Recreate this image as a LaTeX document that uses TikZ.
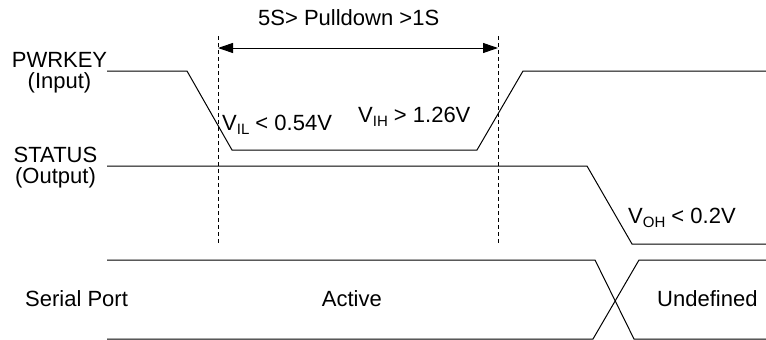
\documentclass[tikz,border=0pt]{standalone}
\usepackage{fontspec}
\setmainfont{Liberation Sans}
\usetikzlibrary{arrows.meta}
\newcommand{\lowsub}[1]{\raisebox{-4pt}{\fontsize{15}{15}\selectfont #1}}
\begin{document}
\begin{tikzpicture}[x=1pt,y=-1pt,
  wave/.style={line width=1pt,black,line join=miter},
  guide/.style={line width=0.8pt,dash pattern=on 4pt off 3pt},
  span/.style={line width=1pt,{Triangle[length=15pt,width=10pt]}-{Triangle[length=15pt,width=10pt]}},
  lbl/.style={inner sep=0pt,font=\fontsize{22}{21}\selectfont,anchor=base,align=center},
  txt/.style={lbl,anchor=base west}]
\useasboundingbox (0,0) rectangle (766,340);
% PWRKEY waveform
\coordinate (p0) at (107,71);
\coordinate (p1) at (187,71);
\coordinate (p2) at (232,150);
\coordinate (p3) at (477,150);
\coordinate (p4) at (523,71);
\coordinate (p5) at (766,71);
\draw[wave] (p0) -- (p1) -- (p2) -- (p3) -- (p4) -- (p5);
% STATUS waveform
\coordinate (s0) at (107,166);
\coordinate (s1) at (587,166);
\coordinate (s2) at (632,244);
\coordinate (s3) at (766,244);
\draw[wave] (s0) -- (s1) -- (s2) -- (s3);
% Serial port bus
\coordinate (b0) at (107,260);
\coordinate (b1) at (595,260);
\coordinate (b2) at (634,339);
\coordinate (b3) at (766,339);
\coordinate (c0) at (107,339);
\coordinate (c1) at (593,339);
\coordinate (c2) at (639,260);
\coordinate (c3) at (766,260);
\draw[wave] (b0) -- (b1) -- (b2) -- (b3);
\draw[wave] (c0) -- (c1) -- (c2) -- (c3);
% guides
\coordinate (g1t) at (218,36);
\coordinate (g1b) at (218,245);
\coordinate (g2t) at (498,36);
\coordinate (g2b) at (498,245);
\draw[guide] (g1t) -- (g1b);
\draw[guide] (g2t) -- (g2b);
\coordinate (a1) at (218,48);
\coordinate (a2) at (498,48);
\draw[span] (a1) -- (a2);
% labels
\node[txt] (title) at (258,25) {5S> Pulldown >1S};
\node[lbl] (pwr) at (59.5,88) {PWRKEY\\(Input)};
\node[lbl] (st) at (55.5,183) {STATUS\\(Output)};
\node[txt] (ser) at (25,306) {Serial Port};
\node[txt] (act) at (321.7,306) {Active};
\node[txt] (und) at (657,306) {Undefined};
\node[txt] (vil) at (222,130) {V\lowsub{IL} < 0.54V};
\node[txt] (vih) at (358,122) {V\lowsub{IH} > 1.26V};
\node[txt] (voh) at (628,223) {V\lowsub{OH} < 0.2V};
\end{tikzpicture}
\end{document}
